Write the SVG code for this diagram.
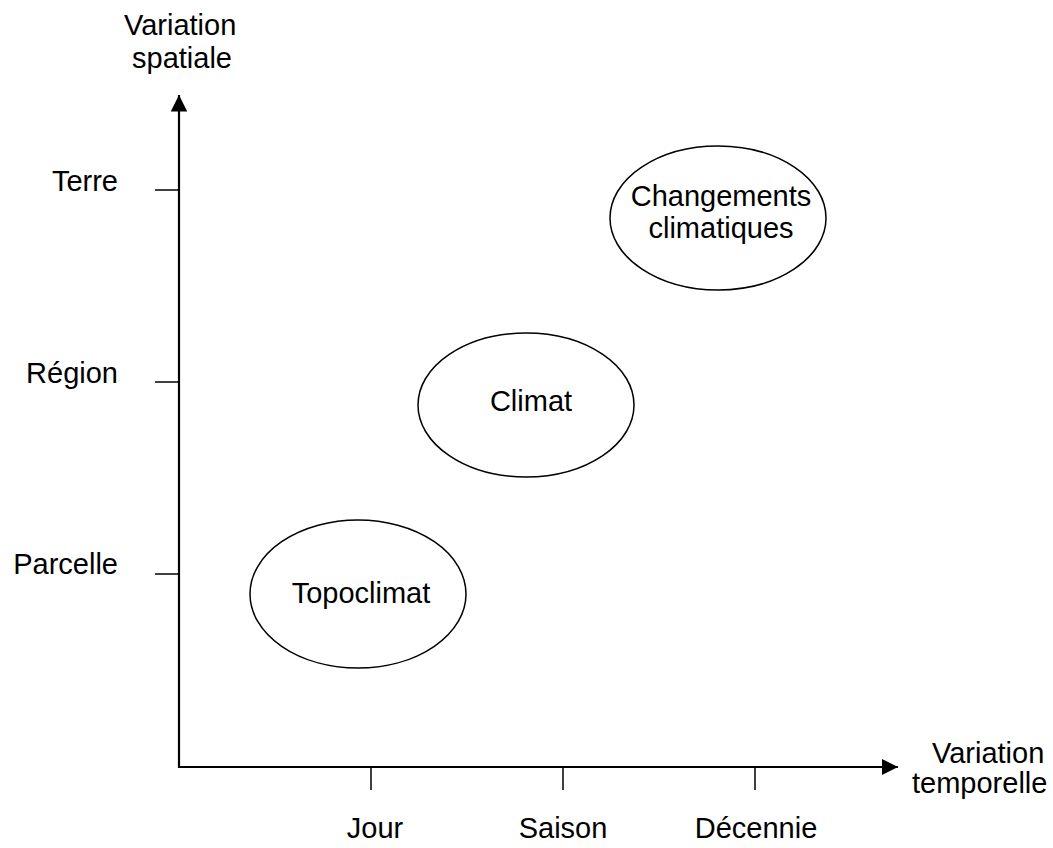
<svg xmlns="http://www.w3.org/2000/svg" width="1053" height="848" viewBox="0 0 1053 848">
<style>
text{font-family:"Liberation Sans",Arial,sans-serif;font-size:29px;fill:#000}
.axis{stroke:#000;stroke-width:2.2;fill:none}
.tick{stroke:#000;stroke-width:1.5;fill:none}
.node{fill:#fff;stroke:#000;stroke-width:1.5}
</style>
<defs>
<marker id="arr" viewBox="0 0 10 10" refX="10" refY="5" markerWidth="7.5" markerHeight="7.5" markerUnits="strokeWidth" orient="auto">
<path d="M0,0 L10,5 L0,10 Z" fill="#000"/>
</marker>
</defs>
<g id="connectors">
<line class="axis" x1="179" y1="768" x2="179" y2="95" marker-end="url(#arr)"/>
<line class="axis" x1="178" y1="767" x2="898" y2="767" marker-end="url(#arr)"/>
<line class="tick" x1="155" y1="190" x2="179" y2="190"/>
<line class="tick" x1="155" y1="382" x2="179" y2="382"/>
<line class="tick" x1="155" y1="574" x2="179" y2="574"/>
<line class="tick" x1="371" y1="767" x2="371" y2="790"/>
<line class="tick" x1="563" y1="767" x2="563" y2="790"/>
<line class="tick" x1="755" y1="767" x2="755" y2="790"/>
</g>
<g id="labels">
<text x="124" y="35">Variation</text>
<text x="132" y="68">spatiale</text>
<text x="118" y="191" text-anchor="end">Terre</text>
<text x="118" y="383" text-anchor="end">Région</text>
<text x="118" y="574" text-anchor="end">Parcelle</text>
<text x="932" y="763">Variation</text>
<text x="912" y="793">temporelle</text>
<text x="375" y="838" text-anchor="middle">Jour</text>
<text x="563" y="838" text-anchor="middle">Saison</text>
<text x="756" y="838" text-anchor="middle">Décennie</text>
</g>
<g id="topoclimat">
<ellipse class="node" cx="358" cy="594" rx="108" ry="74"/>
<text x="361" y="603" text-anchor="middle">Topoclimat</text>
</g>
<g id="climat">
<ellipse class="node" cx="526" cy="405" rx="108" ry="72"/>
<text x="531" y="411" text-anchor="middle">Climat</text>
</g>
<g id="changements">
<ellipse class="node" cx="718" cy="218" rx="108" ry="72"/>
<text x="721" y="206" text-anchor="middle">Changements</text>
<text x="721" y="238" text-anchor="middle">climatiques</text>
</g>
</svg>
